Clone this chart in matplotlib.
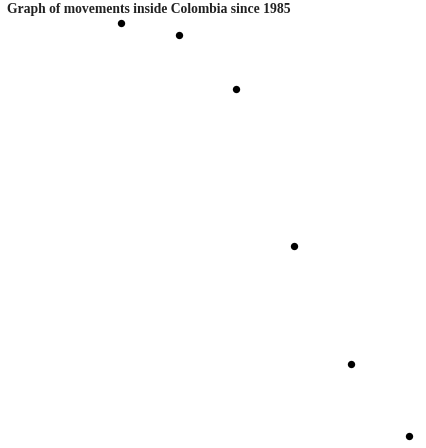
import matplotlib
matplotlib.use("Agg")
import matplotlib.pyplot as plt

# data (one point every 5 years)
years = [1985, 1990, 1995, 2000, 2005, 2010]
movements = [425, 413, 359, 202, 84, 12]

TITLE = "Graph of movements inside Colombia since 1985"


def main():
    fig = plt.figure(figsize=(4.26, 4.48), dpi=100)
    ax = fig.add_axes([0, 0, 1, 1])

    ax.scatter(years, movements, s=28, color="black", linewidths=0)

    ax.set_xlim(1974.5, 2011.48)
    ax.set_ylim(0, 448)
    ax.axis("off")

    fig.text(7 / 426, 1 - 13 / 448, TITLE, fontsize=9.8, fontweight="bold",
             family="Liberation Serif", color="#222222", ha="left", va="baseline")

    fig.savefig("out.png", dpi=100)


if __name__ == "__main__":
    main()
